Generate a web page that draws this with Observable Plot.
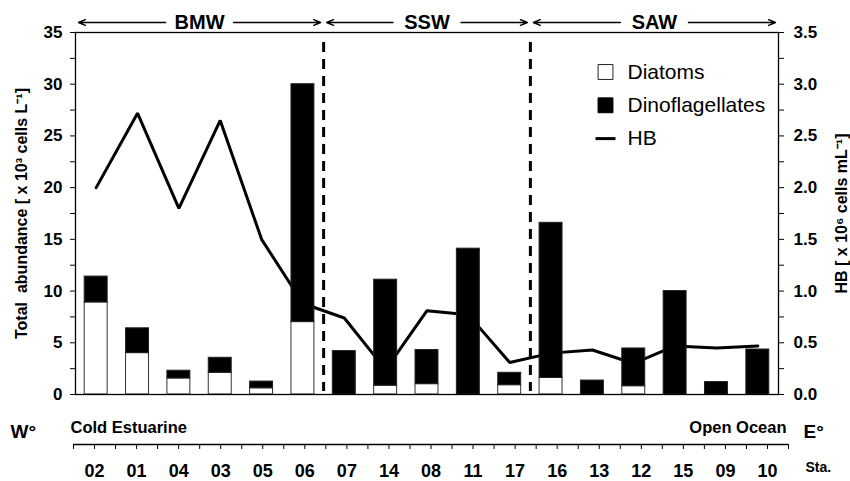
<!DOCTYPE html>
<html>
<head>
<meta charset="utf-8">
<script src="https://cdn.jsdelivr.net/npm/d3@7"></script>
<script src="https://cdn.jsdelivr.net/npm/@observablehq/plot@0.6"></script>
<style>
  html, body { margin: 0; padding: 0; background: white; }
  #chart { width: 850px; font-family: "Liberation Sans", Arial, sans-serif; }
  #chart svg { display: block; }
</style>
</head>
<body>
<div id="chart"></div>
<script>
// ---- data ----
const stations = ["02","01","04","03","05","06","07","14","08","11","17","16","13","12","15","09","10"];
const diatoms = [8.9, 4.0, 1.55, 2.1, 0.6, 7.0, 0, 0.85, 1.0, 0, 0.9, 1.6, 0, 0.8, 0, 0, 0];
const dinoflagellates = [2.5, 2.4, 0.75, 1.45, 0.65, 23.0, 4.2, 10.25, 3.3, 14.1, 1.2, 15.0, 1.35, 3.65, 10.0, 1.2, 4.35];
const hb = [2.0, 2.72, 1.8, 2.65, 1.5, 0.88, 0.74, 0.24, 0.81, 0.77, 0.31, 0.40, 0.43, 0.30, 0.47, 0.45, 0.47];

const regionNames = ["BMW", "SSW", "SAW"];
const regionStart = [0, 6, 11];
const regionEnd = [6, 11, 17];

const leftTicks = [0, 5, 10, 15, 20, 25, 30, 35];
const leftMinorTicks = [2.5, 7.5, 12.5, 17.5, 22.5, 27.5, 32.5];
const rightTickLabels = ["0.0", "0.5", "1.0", "1.5", "2.0", "2.5", "3.0", "3.5"];

const legendLabels = ["Diatoms", "Dinoflagellates", "HB"];
const leftTitle = "Total  abundance [ x 10\u00B3 cells L\u207B\u00B9]";
const rightTitle = "HB [ x 10\u2076 cells mL\u207B\u00B9]";
const westLabel = "W\u00B0";
const eastLabel = "E\u00B0";
const westText = "Cold Estuarine";
const eastText = "Open Ocean";
const staLabel = "Sta.";

// ---- table ----
const rows = stations.map((s, i) => ({station: s, i, diatoms: diatoms[i], dino: dinoflagellates[i], hb: hb[i]}));
const regions = regionNames.map((n, k) => ({name: n, start: regionStart[k], end: regionEnd[k], mid: (regionStart[k] + regionEnd[k]) / 2}));
const dividers = regionStart.slice(1);

const lineSymbol = {
  draw(ctx) { ctx.moveTo(-10, -1.5); ctx.lineTo(10, -1.5); ctx.lineTo(10, 1.5); ctx.lineTo(-10, 1.5); ctx.closePath(); }
};
const legendStyles = [
  {symbol: "square", fill: "white", stroke: "#222", r: 8.4},
  {symbol: "square", fill: "black", stroke: "black", r: 8.4},
  {symbol: lineSymbol, fill: "black", stroke: "none", r: 5}
];
const legendMarks = legendLabels.flatMap((lab, k) => [
  Plot.dot([lab], {frameAnchor: "top-right", dx: -173, dy: 39.5 + k * 33.3, symbol: legendStyles[k].symbol, r: legendStyles[k].r, fill: legendStyles[k].fill, stroke: legendStyles[k].stroke, strokeWidth: 1}),
  Plot.text([lab], {frameAnchor: "top-right", dx: -151, dy: 39.5 + k * 33.3, text: d => d, textAnchor: "start", lineAnchor: "middle", fontSize: 21, fill: "black"})
]);

const main = Plot.plot({
  width: 850,
  height: 410,
  marginLeft: 75,
  marginRight: 72,
  marginTop: 32,
  marginBottom: 16,
  style: {fontFamily: "Liberation Sans, Arial, sans-serif", color: "black", background: "white"},
  x: {domain: [0, stations.length], axis: null},
  y: {domain: [0, 35], axis: null},
  marks: [
    Plot.line(rows, {x: d => d.i + 0.5, y: d => d.hb * 10, stroke: "black", strokeWidth: 3, strokeLinejoin: "miter"}),
    Plot.rectY(rows.filter(d => d.diatoms > 0), {x1: d => d.i, x2: d => d.i + 1, y1: () => 0, y2: d => d.diatoms, fill: "white", stroke: "#333", strokeWidth: 1, insetLeft: 9.2, insetRight: 9.2}),
    Plot.rectY(rows, {x1: d => d.i, x2: d => d.i + 1, y1: d => d.diatoms, y2: d => d.diatoms + d.dino, fill: "black", stroke: "#222", strokeWidth: 1, insetLeft: 9.2, insetRight: 9.2}),
    Plot.ruleX(dividers, {x: d => d, stroke: "black", strokeWidth: 3, strokeDasharray: "10,7", insetTop: 10, insetBottom: 3}),
    Plot.frame({stroke: "black", strokeWidth: 1.3}),
    Plot.axisY({anchor: "left", ticks: leftTicks, tickSize: 5, tickPadding: 8, fontSize: 17, fontWeight: "bold", label: null}),
    Plot.axisY({anchor: "left", ticks: leftMinorTicks, tickSize: 5, tickFormat: () => "", label: null}),
    Plot.axisY({anchor: "right", ticks: leftTicks, tickSize: 5, tickPadding: 10, fontSize: 17, fontWeight: "bold", tickFormat: (d) => rightTickLabels[leftTicks.indexOf(d)], label: null}),
    Plot.axisY({anchor: "right", ticks: leftMinorTicks, tickSize: 5, tickFormat: () => "", label: null}),
    Plot.text([leftTitle], {frameAnchor: "left", dx: -54, rotate: -90, text: d => d, textAnchor: "middle", lineAnchor: "middle", fontSize: 16, fontWeight: "bold", fill: "black"}),
    Plot.text([rightTitle], {frameAnchor: "right", dx: 63, rotate: -90, text: d => d, textAnchor: "middle", lineAnchor: "middle", fontSize: 16, fontWeight: "bold", fill: "black"}),
    Plot.arrow(regions, {x1: d => d.mid, x2: d => d.start, y1: () => 35, y2: () => 35, dy: -10, insetStart: 34, insetEnd: 3, headLength: 8, headAngle: 45, strokeWidth: 1.4, stroke: "black"}),
    Plot.arrow(regions, {x1: d => d.mid, x2: d => d.end, y1: () => 35, y2: () => 35, dy: -10, insetStart: 34, insetEnd: 3, headLength: 8, headAngle: 45, strokeWidth: 1.4, stroke: "black"}),
    Plot.text(regions, {x: d => d.mid, y: () => 35, dy: -10, text: d => d.name, fontSize: 20, fontWeight: "bold", fill: "black"}),
    ...legendMarks
  ]
});

const bottom = Plot.plot({
  width: 850,
  height: 71,
  marginLeft: 73,
  marginRight: 62,
  marginTop: 0,
  marginBottom: 37,
  style: {fontFamily: "Liberation Sans, Arial, sans-serif", color: "black", background: "white"},
  x: {domain: [0, stations.length], axis: null},
  y: {domain: [0, 1], axis: null},
  marks: [
    Plot.ruleY([0], {stroke: "black", strokeWidth: 1.3}),
    Plot.axisX({anchor: "bottom", ticks: d3.range(0, stations.length + 0.001, 0.5), tickSize: 5, tickPadding: 15, fontSize: 18, fontWeight: "bold", tickFormat: d => (d % 1 ? stations[Math.floor(d)] : ""), label: null}),
    Plot.text([westText], {frameAnchor: "left", dx: -3, dy: 0, text: d => d, textAnchor: "start", fontSize: 16.5, fontWeight: "bold", fill: "black"}),
    Plot.text([eastText], {frameAnchor: "right", dx: -2, dy: 0, text: d => d, textAnchor: "end", fontSize: 16.5, fontWeight: "bold", fill: "black"}),
    Plot.text([westLabel], {frameAnchor: "left", dx: -63, dy: 4, text: d => d, textAnchor: "start", fontSize: 19, fontWeight: "bold", fill: "black"}),
    Plot.text([eastLabel], {frameAnchor: "right", dx: 15, dy: 4, text: d => d, textAnchor: "start", fontSize: 19, fontWeight: "bold", fill: "black"}),
    Plot.text([staLabel], {frameAnchor: "bottom-right", dx: 17, dy: 27, text: d => d, textAnchor: "start", fontSize: 14, fontWeight: "bold", fill: "black"})
  ]
});

const chart = document.getElementById("chart");
chart.appendChild(main);
chart.appendChild(bottom);
</script>
</body>
</html>
